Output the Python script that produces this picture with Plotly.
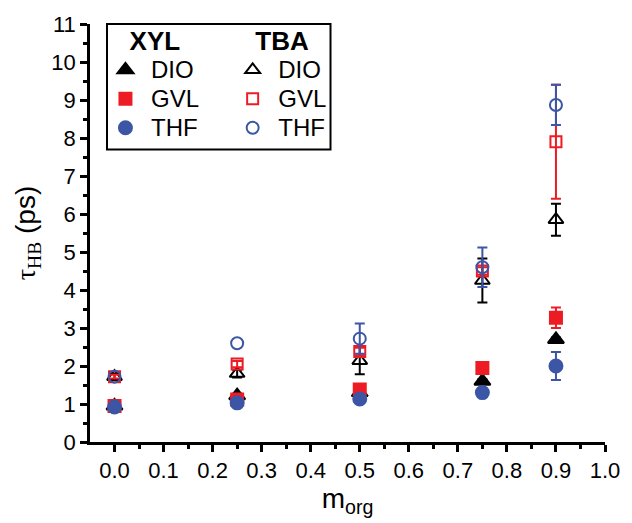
import plotly.graph_objects as go

m_org = [0.0, 0.25, 0.5, 0.75, 0.9]

xyl_dio = [0.95, 1.22, 1.30, 1.60, 2.70]
xyl_dio_err = [0.05, 0.05, 0.05, 0.05, 0.05]
xyl_gvl = [0.95, 1.12, 1.38, 1.95, 3.27]
xyl_gvl_err = [0.05, 0.05, 0.05, 0.05, 0.27]
xyl_thf = [0.92, 1.03, 1.13, 1.30, 2.00]
xyl_thf_err = [0.05, 0.05, 0.05, 0.05, 0.37]

tba_dio = [1.72, 1.80, 2.14, 4.25, 5.85]
tba_dio_err = [0.08, 0.10, 0.36, 0.58, 0.42]
tba_gvl = [1.72, 2.05, 2.38, 4.50, 7.90]
tba_gvl_err = [0.05, 0.08, 0.10, 0.10, 1.50]
tba_thf = [1.72, 2.60, 2.72, 4.60, 8.87]
tba_thf_err = ["NaN", "NaN", 0.40, 0.52, 0.53]  # no visible error bar at first two points

BLACK = "#000000"
RED = "#ED1C24"
BLUE = "#3C55A5"

fig = go.Figure()

def add(y, err, name, color, symbol, size, legend):
    fig.add_trace(go.Scatter(
        x=m_org, y=y, mode="markers",
        name="&nbsp;<span style=\"font-size:24px\">" + name + "</span>",
        legend=legend,
        marker=dict(symbol=symbol, size=size, color=color,
                    line=dict(width=2, color=color)),
        error_y=dict(type="data", array=err, visible=True, color=color,
                     thickness=2, width=5),
    ))

# TBA (open) drawn first, XYL (filled) on top
add(tba_dio, tba_dio_err, "DIO", BLACK, "triangle-up-open", 13, "legend2")
add(tba_gvl, tba_gvl_err, "GVL", RED, "square-open", 11, "legend2")
add(tba_thf, tba_thf_err, "THF", BLUE, "circle-open", 12, "legend2")
add(xyl_dio, xyl_dio_err, "DIO", BLACK, "triangle-up", 14, "legend")
add(xyl_gvl, xyl_gvl_err, "GVL", RED, "square", 12, "legend")
add(xyl_thf, xyl_thf_err, "THF", BLUE, "circle", 13, "legend")

font_fam = "Liberation Sans, Arial, sans-serif"

legend_common = dict(
    bgcolor="rgba(0,0,0,0)", borderwidth=0,
    font=dict(family=font_fam, size=20, color="black"),
    xanchor="left", yanchor="top", tracegroupgap=0, itemsizing="trace",
    traceorder="normal",
)

fig.update_layout(
    width=632, height=523,
    margin=dict(l=90, r=21, t=24, b=81),
    paper_bgcolor="white", plot_bgcolor="white",
    font=dict(family=font_fam, size=21, color="black"),
    showlegend=True,
    legend=dict(x=0.03, y=1.018,
                title=dict(text="<b>XYL</b>", font=dict(size=26, family=font_fam), side="top center"),
                **legend_common),
    legend2=dict(x=0.277, y=1.018,
                 title=dict(text="<b>TBA</b>", font=dict(size=26, family=font_fam), side="top center"),
                 **legend_common),
    xaxis=dict(
        range=[-0.05, 1.0], tickmode="array",
        tickvals=[0, 0.1, 0.2, 0.3, 0.4, 0.5, 0.6, 0.7, 0.8, 0.9, 1.0],
        ticktext=["0.0", "0.1", "0.2", "0.3", "0.4", "0.5", "0.6", "0.7", "0.8", "0.9", "1.0"],
        showline=True, linecolor="black", linewidth=2.5, mirror=False,
        ticks="outside", ticklen=7, tickwidth=2.5, tickcolor="black",
        minor=dict(tickvals=[0.05, 0.15, 0.25, 0.35, 0.45, 0.55, 0.65, 0.75, 0.85, 0.95],
                   ticks="outside", ticklen=4, tickwidth=2.5, tickcolor="black"),
        showgrid=False, zeroline=False,
        tickfont=dict(size=22, family=font_fam),
        title=dict(text="m<sub>org</sub>", font=dict(size=28, family=font_fam), standoff=4),
    ),
    yaxis=dict(
        range=[0, 11], tickmode="linear", tick0=0, dtick=1,
        showline=True, linecolor="black", linewidth=2.5, mirror=False,
        ticks="outside", ticklen=7, tickwidth=2.5, tickcolor="black",
        minor=dict(tick0=0.5, dtick=1, ticks="outside", ticklen=4, tickwidth=2.5, tickcolor="black"),
        showgrid=False, zeroline=False,
        tickfont=dict(size=22, family=font_fam),
        title=dict(text="<span style=\"font-family:'Liberation Serif', 'Times New Roman', serif\">τ<sub>HB</sub></span> (ps)",
                   font=dict(size=28, family=font_fam), standoff=8),
    ),
    shapes=[dict(type="rect", xref="paper", yref="paper",
                 x0=0.033, x1=0.467, y0=0.7, y1=1.0,
                 line=dict(color="black", width=2), fillcolor="rgba(0,0,0,0)")],
)

fig.write_html("out.html")
